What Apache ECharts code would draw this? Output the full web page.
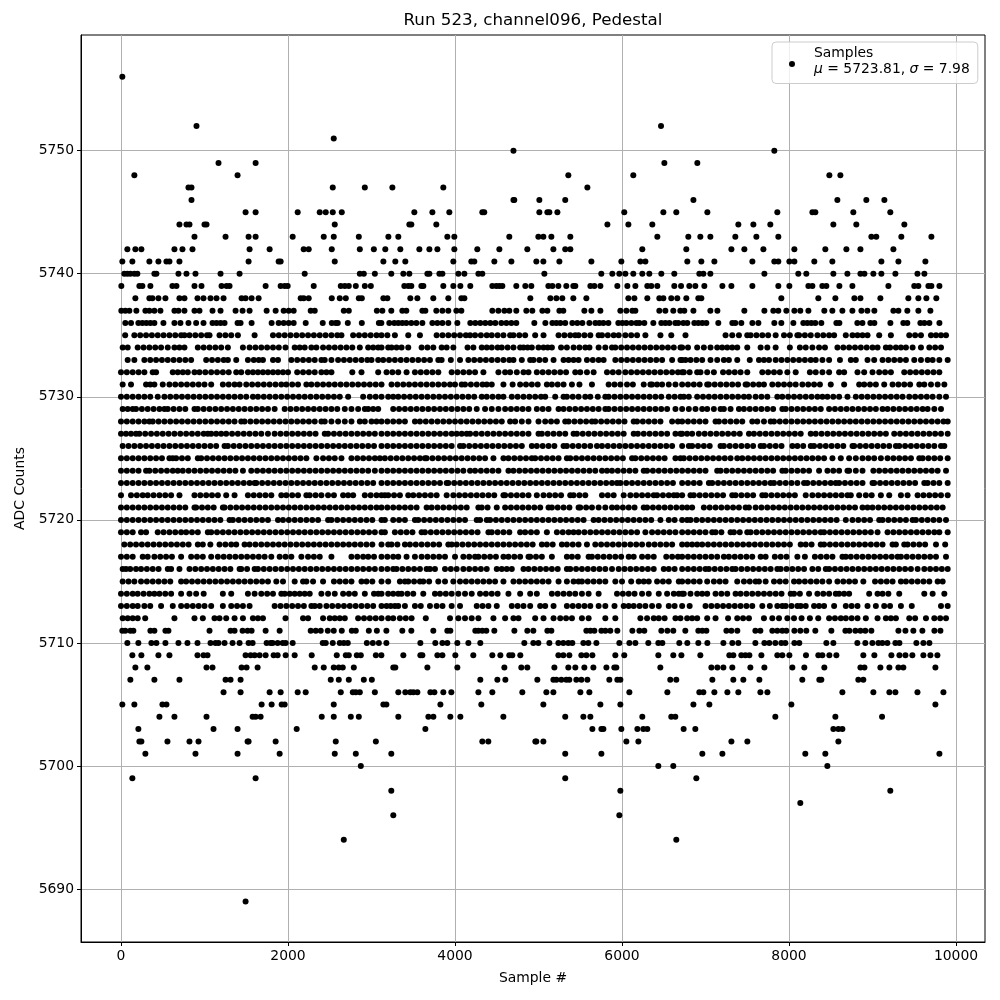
<!DOCTYPE html>
<html><head><meta charset="utf-8"><style>html,body{margin:0;background:#fff}#c{width:1000px;height:1000px}</style>
<script src="https://cdn.jsdelivr.net/npm/echarts@6/dist/echarts.min.js"></script></head>
<body><div id="c"></div><script>
const titleText='Run 523, channel096, Pedestal';
const xTicks=[0,2000,4000,6000,8000,10000];
const yTicks=[5690,5700,5710,5720,5730,5740,5750];
// sparse levels: sample numbers
const sparse={
5756:[16],5752:[904,6467],5751:[2548],5750:[4700,7824],
5749:[1168,1612,6507,6902],5748:[160,1396,5357,6135,8483,8615],
5747:[808,844,2536,2920,3250,3860,5585],
5746:[844,4700,4710,5010,5320,6855,8579,8926,9142],
5745:[1492,1612,2116,2380,2452,2536,2644,3513,3729,3932,4327,4350,5010,5106,5130,5226,6027,6495,6650,7022,7860,8280,8315,8770,9213],
5744:[700,784,820,1000,1024,2560,3453,3477,3776,5825,6076,6363,7393,7573,7776,8531,8806,9381],
5743:[880,1252,1528,1612,2056,2428,2548,2848,3202,3321,3908,3992,4650,4998,5058,5154,5381,6423,6794,6938,7058,7357,7609,7872,8986,9045,9345,9705],
5742:[76,172,244,640,736,856,1540,1780,2188,2248,2524,2860,3028,3165,3345,3573,3693,3789,3992,4267,4531,4866,5178,5320,5381,6243,6770,7310,7465,7693,8064,8435,8687,8855,9250],
5741:[16,136,340,448,544,580,700,1528,1888,1912,2560,3142,3285,3405,3980,4195,4231,4471,4675,4974,5058,5250,5633,5992,6220,6280,6782,6950,7106,7561,7824,7872,8004,8064,8303,8519,9106,9310,9633],
5740:[40,76,112,160,196,400,424,688,784,892,1192,1420,2200,2860,2908,3040,3237,3381,3453,3669,3693,3813,3849,4040,4112,4280,4327,5070,5752,5884,5968,6040,6135,6243,6327,6471,6626,6926,6974,7058,7705,8111,8207,8531,8699,8855,8903,9010,9106,9274,9538,9621],
5739:[4,220,256,352,616,664,880,964,1204,1264,1300,1732,1912,1960,1996,2308,2632,2680,2728,2812,2920,2992,3393,3441,3477,3597,3621,3860,3980,4064,4183,4447,4495,4531,4567,4734,4842,4914,5118,5166,5238,5333,5417,5441,5621,5669,5741,5944,6064,6160,6303,6351,6423,6626,6707,6806,6878,6986,7202,7310,7561,7872,8004,8232,8280,8399,8447,8603,8759,9190,9500,9549,9669,9705,9801],
5738:[172,340,376,448,532,700,760,916,988,1072,1144,1228,1444,1492,1564,1648,2152,2188,2248,2524,2620,2692,2848,2884,3142,3190,3465,3549,3740,3920,4076,4112,4902,5142,5214,5285,5417,5573,6076,6148,6303,6447,6495,6590,6662,6770,6914,6950,7908,8351,8555,8783,8855,9094,9429,9549,9645,9764],
5737:[4,52,100,184,292,340,400,472,640,688,760,880,940,1096,1192,1372,1456,1540,1744,1852,1948,2008,2068,2272,2320,2668,2728,3064,3130,3237,3369,3417,3609,3645,3776,3849,3920,4016,4076,4447,4519,4591,4650,4734,4854,4926,5046,5106,5250,5297,5549,5633,5741,5980,6052,6124,6160,6447,6519,6614,6698,6746,6855,7058,7142,7465,7705,7812,7872,7968,8064,8135,8232,8423,8519,8639,8759,8867,8938,9022,9250,9310,9417,9549,9693],
5736:[52,120,208,256,304,352,400,508,640,712,808,900,988,1096,1144,1192,1240,1396,1432,1564,1804,1888,1948,2008,2068,2212,2416,2524,2572,2596,2716,2884,3088,3118,3213,3273,3321,3369,3417,3477,3537,3609,3729,3789,3849,3920,4028,4183,4243,4303,4363,4423,4483,4555,4615,4675,4734,4950,5082,5166,5214,5262,5320,5405,5465,5525,5609,5681,5729,5777,5837,5956,6004,6052,6112,6172,6208,6267,6375,6471,6519,6567,6638,6674,6734,6782,6866,6914,6962,7010,7153,7321,7357,7429,7561,7633,7824,7908,8052,8171,8219,8267,8315,8387,8567,8603,8818,8879,8974,9022,9214,9369,9417,9573,9621,9681,9801],
5711:[16,52,112,148,352,400,532,568,1060,1312,1360,1456,1516,1564,1732,1900,2272,2332,2392,2476,2548,2644,2764,2812,2968,3064,3178,3369,3477,3740,3908,3944,4243,4280,4327,4375,4471,4711,4866,4938,5106,5154,5573,5621,5669,5753,5801,5860,5944,6124,6208,6267,6471,6543,6614,6758,6914,6962,7010,7250,7310,7381,7597,7657,7800,7860,7920,7968,8064,8135,8207,8315,8507,8675,8723,8795,8855,8914,8986,9310,9394,9489,9597,9741,9813],
5710:[76,208,364,424,532,688,796,916,1072,1132,1168,1240,1336,1420,1528,1576,1744,1792,1816,1876,1936,1972,2056,2416,2452,2536,2620,2668,2716,2944,3016,3088,3178,3585,3764,3849,3908,4028,4160,4303,4830,4938,4998,5130,5238,5297,5357,5405,5537,5597,5693,5968,6088,6160,6315,6435,6483,6686,6782,6914,7022,7214,7321,7393,7597,7705,7764,7836,7908,7956,8064,8123,8447,8531,8818,8914,8998,9070,9118,9178,9274,9322,9525,9609,9681],
5709:[136,244,448,580,916,988,1036,1492,1552,1600,1660,1732,1828,1876,1972,2080,2284,2584,2692,2728,2824,2872,3052,3118,3381,3585,3609,3789,3849,4004,4219,4447,4543,4650,4686,4782,5238,5297,5369,5513,5573,5645,5920,6027,6435,6614,6711,6938,7285,7333,7429,7477,7525,7669,7860,7920,8004,8203,8351,8399,8483,8567,8890,9022,9226,9322,9394,9477,9609,9693,9777],
5708:[172,316,1024,1096,1444,1504,1636,2320,2428,2548,2608,2656,2788,3261,3285,3669,4028,4591,4794,4866,5190,5357,5441,5549,5657,5813,5908,5932,6459,7070,7142,7214,7321,7537,7705,8040,8183,8423,8855,8903,9094,9202,9310,9369,9753],
5707:[112,400,700,1252,1312,1432,2512,2608,2728,2908,3004,4303,4507,4603,4986,5178,5214,5274,5333,5369,5453,5513,5585,5848,5944,5980,6578,6650,7082,7333,7453,7645,8159,8363,8387,8830,8890],
5706:[1228,1432,1780,1912,2116,2212,2632,2776,2812,2860,3040,3321,3405,3465,3501,3549,3705,3753,3860,3956,4280,4447,4806,5094,5178,5501,5609,6088,6543,6926,6974,7106,7262,7393,7657,7741,8639,9010,9202,9274,9538,9849],
5705:[16,160,496,544,1684,1804,1924,1960,2548,3142,3178,3825,4315,5058,5741,5980,6855,7046,8028,9753],
5704:[460,640,1024,1576,1612,1672,2404,2548,2752,2848,3321,3681,3741,3944,4064,4579,5320,5537,5621,6243,6590,6638,7836,8555,9114],
5703:[208,1108,1396,2104,3645,5645,5753,5777,5992,6184,6255,6303,6738,6878,8531,8591,8639],
5702:[220,244,556,820,928,1516,1528,1852,2572,3052,4327,4399,4962,4974,5058,6052,6196,7310,7501,8591],
5701:[292,892,1396,1900,2560,2812,3237,5320,5753,6962,7202,8195,8435,9801],
5700:[2872,6435,6614,8459],5699:[136,1612,5320,6890],5698:[3237,5980,9213],5697:[8135],5696:[3261,5968],5694:[2668,6650],5689:[1492]
};
// dense levels: positions, in tens of samples
const denseUnit=10;
const L5735=[5,16,23,30,37,44,51,58,65,72,76,82,89,96,103,106,118,125,132,140,160,182,189,196,203,210,217,224,231,238,245,252,259,264,278,285,292,299,306,312,319,328,344,358,378,385,392,399,406,413,418,424,431,438,444,451,458,466,470,477,484,496,506,524,531,538,544,548,555,562,572,576,583,590,596,604,611,618,628,646,659,676,724,732,740,750,754,761,768,775,784,794,801,810,812,819,826,834,841,848,854,868,876,882,888,894,908,922,944,951,958,970,976,982,988];
const L5734=[2,8,20,27,34,41,48,56,64,70,76,92,99,106,113,120,128,146,154,161,168,175,182,189,197,208,214,220,228,234,242,249,256,263,270,277,286,296,302,308,312,320,324,330,336,344,360,367,374,384,390,398,415,422,432,438,444,451,456,463,470,478,482,487,492,500,506,511,516,527,534,542,549,556,561,572,580,588,592,599,606,613,620,627,634,641,648,655,662,670,672,679,690,698,706,714,720,726,732,738,750,766,774,784,801,813,820,828,836,843,858,865,872,879,886,893,900,906,916,921,928,934,940,948,958,968,975,982];
const L5733=[8,16,28,35,42,49,56,63,70,77,84,102,109,116,123,128,138,152,159,165,170,182,188,204,211,218,225,232,240,244,252,260,267,274,281,288,295,300,308,314,321,328,335,342,349,356,363,370,380,384,395,406,416,423,430,437,444,451,458,465,470,480,490,494,501,508,518,530,536,542,548,558,565,572,578,592,599,606,613,620,627,634,641,648,660,670,672,676,682,689,696,706,714,722,728,738,753,764,770,776,784,791,798,805,812,819,826,832,840,848,861,874,880,894,902,912,919,926,933,940,950,958,966,972,980,990];
const L5732=[0,7,14,21,28,38,42,62,68,74,80,88,94,101,108,115,122,129,138,144,152,158,164,170,176,182,188,194,200,211,218,225,232,240,246,252,277,288,308,318,325,332,342,352,359,366,373,380,396,403,410,417,424,434,452,460,466,474,482,488,498,505,512,519,526,533,544,550,558,566,582,589,596,604,611,618,625,632,639,646,653,660,667,672,674,681,690,694,702,710,721,728,735,742,750,768,775,782,789,798,808,825,832,840,848,860,866,882,890,900,908,915,922,938,945,952,959,966,973,980];
const L5731=[2,12,30,35,40,50,58,65,72,79,86,93,100,108,122,129,136,142,150,157,164,171,178,185,192,198,205,212,222,228,235,242,249,256,263,270,277,284,291,298,305,312,324,331,338,345,352,359,366,373,380,387,394,400,408,412,419,426,433,438,444,458,469,478,485,492,499,510,516,523,530,540,549,564,584,591,598,606,613,626,634,636,642,648,656,664,672,679,686,693,702,704,711,718,725,732,739,748,750,757,764,770,780,787,794,801,808,816,823,830,837,850,866,884,890,897,904,914,924,931,938,945,956,962,970,978,986];
const L5730=[0,7,14,21,28,35,44,52,59,66,73,80,87,94,101,108,115,122,129,136,143,150,158,164,171,178,185,192,199,206,213,220,227,234,241,248,255,262,272,290,298,305,312,320,326,332,339,346,353,360,367,374,381,388,395,402,409,416,423,432,438,445,452,458,468,475,482,489,496,503,508,520,530,534,541,548,556,562,571,580,584,591,598,605,612,619,626,633,640,647,656,663,670,674,680,690,697,704,711,718,725,732,739,746,752,760,767,774,786,792,799,806,813,820,827,834,840,846,853,860,870,880,887,894,901,908,915,922,929,936,944,951,958,965,972,980,988];
const L5729=[2,8,14,18,25,32,39,46,52,56,63,70,77,88,92,99,106,113,120,127,134,141,148,155,162,169,176,184,196,203,210,217,224,231,238,245,252,259,268,276,284,292,296,302,308,326,333,340,347,354,361,368,375,382,389,396,403,410,417,426,436,444,452,460,467,474,481,488,498,505,512,524,530,537,544,551,558,565,572,580,584,591,598,605,612,619,626,633,640,647,654,664,672,680,688,696,702,710,718,722,730,740,746,753,760,767,774,781,792,796,803,810,817,824,831,838,848,855,862,869,876,883,890,897,904,912,918,925,932,939,946,953,960,966,974,982];
const L5728=[0,7,14,21,28,34,38,45,52,59,66,73,80,87,94,101,108,115,122,129,136,144,148,155,162,169,176,183,190,197,204,211,218,225,232,240,244,252,260,268,276,286,292,300,306,312,319,326,333,340,352,358,365,372,379,386,393,400,407,414,421,428,435,442,449,456,466,472,480,488,500,508,515,522,532,536,543,550,557,564,568,575,582,589,596,603,614,618,625,632,639,646,660,667,672,679,686,693,700,712,716,723,730,737,744,756,762,770,778,782,789,796,803,810,817,824,831,838,845,852,859,866,873,880,887,894,901,908,915,922,929,936,943,950,957,964,971,978,985,990];
const L5727=[0,6,12,18,22,29,36,43,50,57,64,71,78,85,92,99,104,108,114,120,126,133,140,147,154,161,168,176,184,191,198,205,212,219,226,233,244,248,255,262,269,276,283,290,297,304,312,319,326,333,340,347,354,361,368,375,382,389,396,402,408,414,418,425,432,439,446,453,460,467,474,481,488,500,504,511,518,525,532,542,546,553,560,567,574,581,588,595,602,614,619,626,633,640,647,654,664,670,672,678,684,692,699,706,713,720,727,734,741,752,758,765,772,779,786,793,800,807,814,826,832,839,846,853,860,867,874,881,888,895,902,909,916,926,933,940,947,954,961,968,975,982,990];
const L5726=[2,9,16,23,30,37,44,51,58,65,72,79,86,93,100,107,114,124,128,135,142,149,156,163,170,177,184,191,198,205,212,219,226,233,240,247,254,261,268,275,282,289,296,303,312,319,326,333,340,347,354,361,368,375,382,389,396,406,410,417,424,431,438,445,452,459,466,473,480,492,498,505,512,519,530,534,541,548,555,562,570,576,583,590,597,604,611,618,625,632,639,646,653,660,672,680,684,691,698,705,718,722,729,736,743,750,757,766,770,777,784,791,804,810,817,826,830,837,844,851,858,865,876,878,885,892,899,906,913,920,928,932,939,946,953,960,967,974,982,986];
const L5725=[0,7,14,21,28,35,42,49,58,62,66,73,80,92,96,103,110,117,124,131,138,145,152,159,166,173,180,187,194,201,208,215,222,234,242,249,256,264,276,283,290,297,304,310,316,323,330,337,344,351,358,364,366,373,380,387,394,401,408,415,422,429,436,446,458,464,471,478,485,492,496,503,510,517,524,534,538,545,552,559,566,573,580,587,594,601,612,616,623,630,637,644,651,664,670,674,681,688,695,702,709,716,723,730,738,744,751,758,765,772,779,786,793,800,807,814,821,828,835,842,852,862,872,880,888,895,902,910,918,925,932,939,946,956,960,967,974,981,990];
const L5724=[0,7,14,21,30,34,41,48,55,62,68,74,81,88,95,102,109,116,123,130,137,146,156,163,170,177,184,191,198,205,212,219,226,233,240,247,254,261,268,275,282,289,296,304,312,319,326,333,340,347,354,361,368,375,382,389,396,403,410,418,424,431,438,445,452,464,470,477,484,491,498,505,512,519,526,533,540,547,554,561,568,576,582,588,595,602,609,616,626,630,637,644,651,658,665,672,679,686,693,700,714,718,725,732,739,746,753,760,767,774,781,792,796,803,810,817,824,836,846,853,860,870,872,880,888,901,908,915,922,929,936,943,950,957,964,971,978,988];
const L5723=[0,7,14,21,28,35,42,49,56,63,70,77,84,91,98,105,112,119,126,133,140,147,154,160,162,169,176,183,190,197,204,211,218,225,232,239,246,253,260,267,274,281,288,295,302,312,319,326,333,340,347,354,361,368,375,382,390,392,399,406,413,420,427,434,441,448,455,462,469,476,483,490,497,504,511,518,525,532,539,546,553,560,567,574,581,588,594,598,605,612,619,626,633,640,647,654,661,672,679,686,693,704,708,715,722,729,736,743,750,757,764,771,778,782,789,796,803,810,818,822,829,836,843,850,856,860,867,874,881,888,900,902,909,916,923,930,937,944,951,962,966,973,980,990];
const L5722=[0,12,19,26,32,39,46,53,60,70,88,95,102,109,116,126,136,152,159,166,173,180,192,198,205,212,222,226,233,240,248,255,266,272,278,292,299,306,312,316,320,327,334,344,350,357,364,371,378,390,398,405,412,419,426,433,440,447,458,460,467,474,481,488,498,506,513,520,527,538,542,549,556,576,583,590,602,610,617,624,631,638,642,649,656,662,666,672,682,686,693,700,707,714,721,732,736,743,750,757,768,772,779,786,793,800,807,820,828,835,842,849,856,863,870,874,884,892,899,910,920,934,942,954,961,968,975,982,990];
const L5721=[0,7,14,21,28,35,42,49,56,63,70,77,88,90,97,104,111,122,124,131,138,145,152,159,166,173,180,187,194,201,208,215,222,229,236,243,250,257,264,271,278,285,292,299,306,312,319,326,333,340,347,354,366,372,379,386,393,400,407,414,428,432,439,450,460,467,474,481,488,495,502,512,516,523,530,537,548,550,557,564,572,580,588,594,601,608,615,626,630,637,644,651,658,665,672,678,684,698,705,712,719,726,733,740,748,752,760,767,774,781,788,795,802,809,816,823,830,837,844,851,858,865,872,879,888,894,900,907,914,921,928,935,942,949,956,963,970,977,984];
const L5720=[0,7,14,21,28,35,42,49,56,63,70,77,84,91,98,105,112,119,130,134,141,148,155,162,169,176,188,194,201,208,215,222,229,236,248,252,259,266,273,280,287,294,301,312,316,326,333,340,352,356,363,370,377,384,391,398,405,412,426,430,438,442,449,456,463,470,477,484,491,498,505,512,519,526,533,540,547,554,566,572,579,586,593,600,607,614,621,628,635,646,656,663,672,678,682,689,696,703,710,717,724,731,738,745,752,759,766,773,780,787,794,801,808,815,822,829,836,843,850,857,868,876,883,890,897,908,912,919,926,933,940,948,952,959,966,973,980,988];
const L5719=[0,7,14,24,30,44,51,58,65,72,78,85,92,104,108,115,122,129,136,143,150,157,164,171,178,185,192,199,206,213,220,227,234,241,248,255,262,269,276,283,290,297,304,312,316,328,335,342,349,360,364,371,378,385,392,399,406,413,420,427,440,444,451,458,465,478,484,491,498,510,522,529,536,542,548,555,562,569,576,583,590,597,604,611,618,628,636,643,650,657,664,672,679,686,693,700,708,712,719,730,734,741,750,754,761,768,775,782,789,796,803,810,817,824,831,838,842,849,856,863,870,877,884,891,898,906,918,925,932,939,946,953,960,967,974,980,990];
const L5718=[4,11,18,25,32,39,46,53,60,67,74,81,92,98,107,118,125,132,138,148,154,161,168,175,182,189,196,203,210,217,224,231,238,245,252,259,266,273,280,287,294,301,312,320,324,331,340,346,353,360,367,374,381,392,396,402,409,416,423,430,437,444,451,458,465,472,479,486,493,504,510,517,528,534,541,548,558,568,575,582,589,596,603,610,617,624,632,639,646,653,660,672,678,684,690,696,703,710,717,724,731,738,745,752,759,766,773,780,787,794,801,814,820,827,838,842,849,856,863,870,877,884,891,898,905,912,924,928,938,942,949,956,963,976,987];
const L5717=[0,7,14,26,32,40,47,54,61,72,84,91,98,108,116,123,130,137,144,151,158,165,172,180,190,197,204,216,224,231,238,252,276,283,290,296,303,312,319,326,332,342,352,360,367,374,381,388,400,410,417,424,428,435,442,449,458,464,471,478,488,490,497,504,516,534,540,547,560,564,571,578,585,592,599,608,614,624,631,638,653,660,667,672,679,686,693,700,707,714,722,728,735,742,749,756,766,772,783,790,797,810,819,831,838,845,852,864,868,874,881,888,895,902,909,916,923,930,934,941,948,955,962,969,976,988];
const L5716=[2,6,11,18,24,31,38,45,56,60,70,82,89,96,103,110,117,124,131,142,144,151,160,164,171,178,185,192,199,206,213,220,227,234,241,248,255,262,269,276,283,290,297,304,312,319,326,330,337,344,351,358,366,370,376,388,395,402,410,417,424,431,438,450,456,462,468,482,488,495,502,509,516,523,534,538,545,552,559,566,573,580,588,596,603,610,617,624,631,638,650,656,663,672,679,686,693,700,704,711,718,725,732,736,743,750,757,764,771,778,786,790,797,804,811,818,828,835,844,848,855,862,869,876,883,890,897,904,911,918,925,932,939,946,954,962,969,976,983,990];
const L5715=[2,9,16,24,31,38,45,52,59,72,78,85,92,99,106,113,120,127,134,141,148,155,162,169,176,186,194,208,218,222,230,242,255,262,269,276,288,294,301,312,320,334,340,344,351,358,362,369,380,388,398,406,413,420,427,434,441,448,458,470,477,484,491,498,505,512,524,534,542,548,552,559,566,573,580,592,600,611,620,626,632,642,649,656,668,672,679,686,693,702,710,717,724,738,746,753,760,764,772,782,789,796,806,812,819,826,833,840,848,858,865,872,879,889,903,910,917,924,934,940,947,954,961,968,978,984];
const L5714=[0,7,14,20,27,34,40,46,53,60,72,82,90,99,122,132,152,160,168,175,182,192,196,202,208,214,220,226,240,248,256,266,273,280,292,303,308,312,320,326,332,336,343,350,362,376,382,389,396,404,412,420,430,437,444,451,464,478,490,498,516,523,530,537,544,552,560,572,594,601,608,615,624,632,644,654,662,668,672,674,682,690,696,702,712,719,726,736,742,749,756,763,770,777,784,791,802,806,813,824,834,841,848,856,860,866,872,896,906,912,919,932,962,972,986];
const L5713=[0,7,14,20,28,35,48,62,72,79,86,93,100,108,122,132,139,146,154,184,191,198,205,212,219,228,232,238,246,253,260,267,274,281,288,295,302,312,318,323,328,332,340,352,359,370,378,385,396,406,426,433,440,450,468,475,482,490,502,508,518,534,541,548,555,562,572,580,591,602,608,614,621,628,636,644,656,663,672,681,700,707,714,721,728,735,742,749,756,768,777,786,792,796,803,810,814,820,830,836,842,854,868,875,882,894,904,914,921,934,947,982,990];
const L5712=[2,8,14,20,29,64,88,98,112,118,126,136,146,158,164,170,197,218,224,242,250,256,262,268,284,291,298,305,312,320,326,334,341,348,365,394,404,412,420,428,446,460,470,476,496,506,518,526,533,540,552,560,580,592,622,630,638,644,651,664,670,678,684,690,702,712,727,738,745,752,770,780,788,798,806,815,825,835,848,855,862,868,875,882,892,906,916,922,928,944,951,964,974,981,988];
const dense={5735:L5735,5734:L5734,5733:L5733,5732:L5732,5731:L5731,5730:L5730,5729:L5729,5728:L5728,5727:L5727,5726:L5726,5725:L5725,5724:L5724,5723:L5723,5722:L5722,5721:L5721,5720:L5720,5719:L5719,5718:L5718,5717:L5717,5716:L5716,5715:L5715,5714:L5714,5713:L5713,5712:L5712};
const pts=[];
for(const k in sparse) sparse[k].forEach(x=>pts.push([x,+k]));
for(const k in dense) dense[k].forEach(x=>pts.push([x*denseUnit,+k]));
const ink='#000',grid='#b0b0b0',font='DejaVu Sans';
const chart=echarts.init(document.getElementById('c'),null,{renderer:'canvas'});
chart.setOption({animation:false,backgroundColor:'#fff',
 title:{text:titleText,left:533,top:12,textAlign:'center',textVerticalAlign:'top',padding:0,textStyle:{fontFamily:font,fontSize:16.7,fontWeight:'normal',color:ink}},
 grid:{left:81,right:15,top:35,bottom:58,outerBoundsMode:'none',containLabel:false,show:true,borderColor:ink,borderWidth:1,backgroundColor:'transparent'},
 legend:{left:772,top:42,orient:'vertical',padding:[4,8,3,17],backgroundColor:'rgba(255,255,255,0.8)',borderColor:'#cccccc',borderWidth:1,borderRadius:4,itemWidth:34,itemHeight:6,
  data:[{name:'Samples',icon:'circle'}],
  formatter:()=>'{a|Samples}\n{b|μ}{a| = 5723.81, }{b|σ}{a| = 7.98}\n{e| }',
  textStyle:{rich:{a:{fontFamily:font,fontSize:13.9,color:ink,lineHeight:16},b:{fontFamily:font,fontSize:13.9,fontStyle:'italic',color:ink,lineHeight:16},e:{fontSize:1,lineHeight:6}}}},
 xAxis:{type:'value',min:-479,max:10347,interval:2000,name:'Sample #',nameLocation:'middle',nameGap:29,nameTextStyle:{fontFamily:font,fontSize:13.9,color:ink},
  axisLine:{onZero:false,lineStyle:{color:ink,width:1}},axisTick:{show:true,length:4,customValues:xTicks,lineStyle:{color:ink,width:1}},
  axisLabel:{customValues:xTicks,fontFamily:font,fontSize:13.9,color:ink,margin:7,formatter:v=>String(v)},
  splitLine:{show:true,lineStyle:{color:grid,width:1}}},
 yAxis:{type:'value',min:5685.7,max:5759.4,interval:10,name:'ADC Counts',nameLocation:'middle',nameGap:54,nameTextStyle:{fontFamily:font,fontSize:13.9,color:ink},
  axisLine:{onZero:false,lineStyle:{color:ink,width:1}},axisTick:{show:true,length:4,customValues:yTicks,lineStyle:{color:ink,width:1}},
  axisLabel:{customValues:yTicks,fontFamily:font,fontSize:13.9,color:ink,margin:7,formatter:v=>String(v)},
  splitLine:{show:true,lineStyle:{color:grid,width:1}}},
 series:[{name:'Samples',type:'scatter',data:pts,symbolSize:6,itemStyle:{color:ink,opacity:1},z:3}]
});
</script></body></html>
